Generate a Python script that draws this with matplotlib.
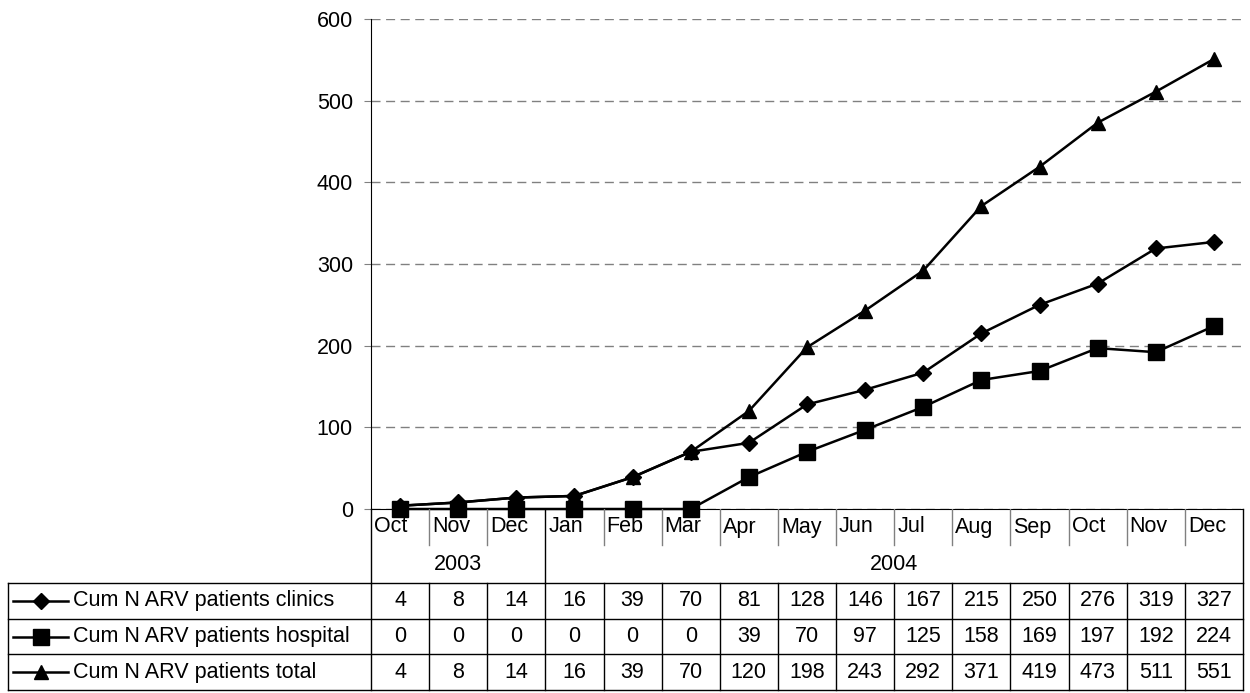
import numpy as np
import matplotlib.pyplot as plt

plt.rcParams['font.family'] = ['Liberation Sans', 'DejaVu Sans']
plt.rcParams['font.size'] = 15.5

months = ["Oct", "Nov", "Dec", "Jan", "Feb", "Mar", "Apr", "May", "Jun",
          "Jul", "Aug", "Sep", "Oct", "Nov", "Dec"]
years = ["2003", "2004"]
year_start = [0, 3]
year_end = [3, 15]
clinics = [4, 8, 14, 16, 39, 70, 81, 128, 146, 167, 215, 250, 276, 319, 327]
hospital = [0, 0, 0, 0, 0, 0, 39, 70, 97, 125, 158, 169, 197, 192, 224]
total = [4, 8, 14, 16, 39, 70, 120, 198, 243, 292, 371, 419, 473, 511, 551]
names = ["Cum N ARV patients clinics", "Cum N ARV patients hospital",
         "Cum N ARV patients total"]
markers = ["D", "s", "^"]
msizes = [8.5, 11, 10]
values = [clinics, hospital, total]

W, H = 1250, 693
fig = plt.figure(figsize=(W / 100, H / 100), dpi=100)

# plot area (pixel layout of the reference)
px_left, px_right, px_top, px_zero = 371, 1243, 19, 509
cat_w = (px_right - px_left) / len(months)
ax = fig.add_axes([px_left / W, 1 - px_zero / H,
                   (px_right - px_left) / W, (px_zero - px_top) / H])
x = np.arange(len(months))
for v, m, ms in zip(values, markers, msizes):
    ax.plot(x, v, color="black", lw=1.8, marker=m, ms=ms, clip_on=False, zorder=3)
ax.set_xlim(-0.5, len(months) - 0.5)
ax.set_ylim(0, 600)
ax.set_yticks(range(0, 700, 100))
ax.set_xticks([])
ax.yaxis.grid(True, ls=(0, (6.5, 4)), color="#808080", lw=1)
ax.set_axisbelow(True)
for s in ["top", "right"]:
    ax.spines[s].set_visible(False)
ax.spines["left"].set_color("black")
ax.spines["bottom"].set_color("black")
ax.tick_params(axis="y", direction="out", length=5, pad=8, labelsize=15.5,
               color="#808080")

# data table under the plot
tab_left, tab_bottom = 8, 690
month_bot, year_bot = 545, 583
rows = np.linspace(year_bot, tab_bottom, 4)
xl = -0.5 - (px_left - tab_left) / cat_w
tab = fig.add_axes([tab_left / W, 1 - tab_bottom / H,
                    (px_right - tab_left) / W, (tab_bottom - px_zero) / H])
tab.set_xlim(xl, len(months) - 0.5)
tab.set_ylim(tab_bottom, px_zero)
tab.axis("off")

n = len(months)
lk = dict(color="black", lw=1, clip_on=False)
# month row separators
for i in range(1, n):
    if i in year_start:
        continue
    tab.plot([i - 0.5, i - 0.5], [px_zero, month_bot], color="#808080", lw=1)
for i, mname in enumerate(months):
    tab.text(i - 0.5 + 3 / cat_w, 527, mname, ha="left", va="center")
# year row
for s, e, yname in zip(year_start, year_end, years):
    tab.plot([s - 0.5, s - 0.5], [px_zero, year_bot], **lk)
    tab.text((s + e - 1) / 2, 564, yname, ha="center", va="center")
tab.plot([n - 0.5, n - 0.5], [px_zero, tab_bottom], **lk)
# data rows
for r in rows:
    tab.plot([xl, n - 0.5], [r, r], **lk)
for i in range(n):
    tab.plot([i - 0.5, i - 0.5], [year_bot, tab_bottom], **lk)
tab.plot([xl, xl], [year_bot, tab_bottom], **lk)
for k, (v, name, m, ms) in enumerate(zip(values, names, markers, msizes)):
    yc = (rows[k] + rows[k + 1]) / 2
    x0 = xl + 5 / cat_w
    x1 = xl + 60 / cat_w
    tab.plot([x0, x1], [yc, yc], color="black", lw=1.8)
    tab.plot([(x0 + x1) / 2], [yc], color="black", marker=m, ms=ms)
    tab.text(xl + 65 / cat_w, yc, name, ha="left", va="center")
    for i, val in enumerate(v):
        tab.text(i, yc, str(val), ha="center", va="center")

fig.savefig("out.png", dpi=100)
